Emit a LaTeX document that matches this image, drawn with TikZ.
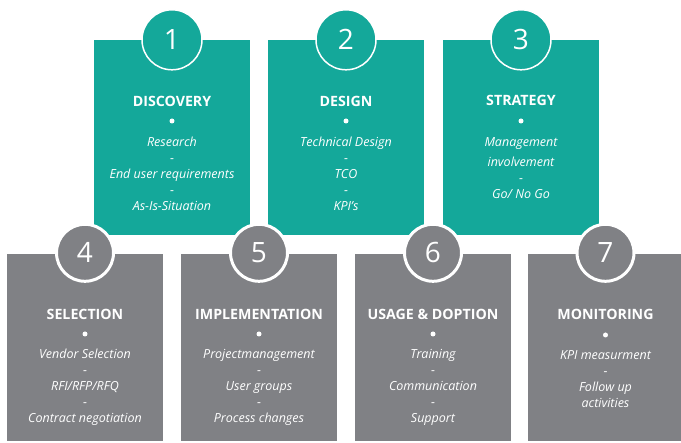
\documentclass[tikz,border=0pt]{standalone}
\usepackage{fontspec}
\setmainfont{Open Sans}
\definecolor{tealc}{RGB}{20,168,154}
\definecolor{grayc}{RGB}{128,129,133}
\begin{document}
\begin{tikzpicture}[x=1pt,y=-1pt,
  box/.style={draw=none,minimum width=156pt,inner sep=0pt},
  tbox/.style={box,fill=tealc,minimum height=195pt},
  gbox/.style={box,fill=grayc,minimum height=187pt},
  tcirc/.style={circle,fill=tealc,draw=white,line width=1.5pt,minimum size=60pt,inner sep=0pt,text=white,font=\fontsize{28}{30}\selectfont},
  gcirc/.style={circle,fill=grayc,draw=white,line width=3pt,minimum size=57pt,inner sep=0pt,text=white,font=\fontsize{28}{30}\selectfont},
  head/.style={text=white,font=\bfseries\fontsize{14.2}{16}\selectfont,inner sep=0pt},
  dot/.style={circle,fill=white,minimum size=5pt,inner sep=0pt},
  items/.style={text=white,align=center,inner sep=0pt,font=\itshape\fontsize{12.5}{16}\selectfont}
]
\useasboundingbox (0,0) rectangle (681,443);
% top boxes
\node[tbox] (b1) at (172,137.5) {};
\node[tbox] (b2) at (346,137.5) {};
\node[tbox] (b3) at (521,137.5) {};
% bottom boxes
\node[gbox] (b4) at (85,347.5) {};
\node[gbox] (b5) at (259,347.5) {};
\node[gbox] (b6) at (433,347.5) {};
\node[gbox] (b7) at (605.5,347.5) {};
% circles
\node[tcirc] (c1) at (b1.north) {1};
\node[tcirc] (c2) at (b2.north) {2};
\node[tcirc] (c3) at (b3.north) {3};
\node[gcirc] (c4) at ([yshift=1pt]b4.north) {4};
\node[gcirc] (c5) at ([yshift=1pt]b5.north) {5};
\node[gcirc] (c6) at ([yshift=1pt]b6.north) {6};
\node[gcirc] (c7) at ([yshift=1pt]b7.north) {7};
% headings
\node[head] (h1) at (172,101) {DISCOVERY};
\node[head] (h2) at (346,101) {DESIGN};
\node[head] (h3) at (521,100.5) {STRATEGY};
\node[head] (h4) at (85,314.5) {SELECTION};
\node[head] (h5) at (259,314.5) {IMPLEMENTATION};
\node[head] (h6) at (433,314.5) {USAGE \& DOPTION};
\node[head] (h7) at (605.5,314.5) {MONITORING};
% bullets
\node[dot] (d1) at (172,121) {};
\node[dot] (d2) at (346,121) {};
\node[dot] (d3) at (521,121) {};
\node[dot] (d4) at (85,334) {};
\node[dot] (d5) at (259,334) {};
\node[dot] (d6) at (433,334) {};
\node[dot] (d7) at (605.5,335) {};
% item lists
\node[items] (l1) at (172,174) {Research\\-\\End user requirements\\-\\As-Is-Situation};
\node[items] (l2) at (346,174) {Technical Design\\-\\TCO\\-\\KPI’s};
\node[items] (l3) at (521,168) {Management\\[4pt]involvement\\-\\Go/ No Go};
\node[items] (l4) at (85,387.5) {Vendor Selection\\-\\RFI/RFP/RFQ\\-\\Contract negotiation};
\node[items] (l5) at (259,387.5) {Projectmanagement\\-\\User groups\\-\\Process changes};
\node[items] (l6) at (433,387.5) {Training\\-\\Communication\\-\\Support};
\node[items] (l7) at (605.5,379.5) {KPI measurment\\-\\Follow up\\activities};
\end{tikzpicture}
\end{document}
